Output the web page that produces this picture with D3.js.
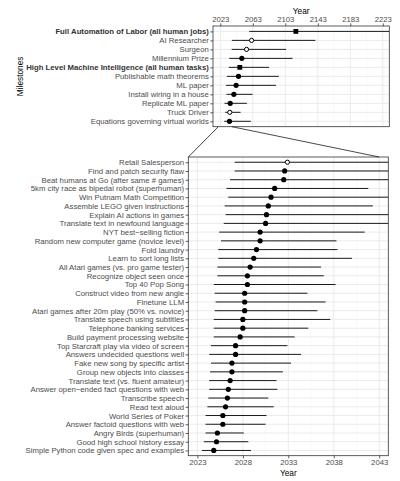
<!DOCTYPE html>
<html><head><meta charset="utf-8">
<script src="https://cdn.jsdelivr.net/npm/d3@7"></script>
<style>
html,body{margin:0;padding:0;background:#fff;}
svg{display:block;font-family:"Liberation Sans",Arial,sans-serif;}
</style></head>
<body><svg id="c" width="400" height="481"></svg>
<script>
// ---------- DATA ----------
const topTasks = ["Full Automation of Labor (all human jobs)","AI Researcher","Surgeon","Millennium Prize",
"High Level Machine Intelligence (all human tasks)","Publishable math theorems","ML paper","Install wiring in a house",
"Replicate ML paper","Truck Driver","Equations governing virtual worlds"];
const topMid = [2116,2061.5,2055.3,2049.5,2047,2045.4,2042.5,2039.7,2035.2,2034.7,2034.3];
const topLo  = [2058.6,2037.2,2037,2033.9,2033.5,2031,2029.8,2030.6,2028.2,2029,2027.8];
const topHi  = [2260,2140,2104,2112,2083,2095,2091.5,2062.7,2055.7,2048,2060.6];
const topShape = ["square","open","open","dot","square","dot","dot","dot","dot","open","dot"];
const topBold = [true,false,false,false,true,false,false,false,false,false,false];
const topTicks = [2023,2063,2103,2143,2183,2223];
const topMinor = [2043,2083,2123,2163,2203];

const botTasks = ["Retail Salesperson","Find and patch security flaw","Beat humans at Go (after same # games)",
"5km city race as bipedal robot (superhuman)","Win Putnam Math Competition","Assemble LEGO given instructions",
"Explain AI actions in games","Translate text in newfound language","NYT best\u2212selling fiction",
"Random new computer game (novice level)","Fold laundry","Learn to sort long lists","All Atari games (vs. pro game tester)",
"Recognize object seen once","Top 40 Pop Song","Construct video from new angle","Finetune LLM",
"Atari games after 20m play (50% vs. novice)","Translate speech using subtitles","Telephone banking services",
"Build payment processing website","Top Starcraft play via video of screen","Answers undecided questions well",
"Fake new song by specific artist","Group new objects into classes","Translate text (vs. fluent amateur)",
"Answer open\u2212ended fact questions with web","Transcribe speech","Read text aloud","World Series of Poker",
"Answer factoid questions with web","Angry Birds (superhuman)","Good high school history essay",
"Simple Python code given spec and examples"];
const botMid = [2032.9,2032.6,2032.5,2031.5,2031.1,2030.8,2030.6,2030.5,2029.9,2029.9,2029.5,2029.2,2028.8,
2028.5,2028.5,2028.2,2028.2,2028.2,2028,2028,2027.7,2027.2,2027.2,2026.8,2026.8,2026.6,2026.4,2026.3,2026.1,
2025.8,2025.8,2025.2,2025.1,2024.8];
const botLo = [2027.1,2027.1,2026.6,2026.2,2026.4,2026,2026.1,2025.9,2025.4,2025.6,2025.3,2025.3,2025.2,
2025.2,2024.8,2024.9,2025,2024.9,2024.8,2024.8,2024.8,2024.5,2024.3,2024.5,2024.4,2024.3,2024.3,2024.2,2024.1,
2023.9,2023.9,2023.9,2023.7,2023.5];
const botHi = [2050,2050,2050,2041.8,2050,2042.3,2050,2050,2041.4,2038.3,2038.4,2040,2036.6,
2036.9,2038.2,2035.1,2037.1,2036.2,2037.6,2035.2,2033.7,2032.9,2034.4,2033.3,2032.4,2031.7,2031.8,2030.8,2031.4,
2030.6,2030.5,2028.1,2028.6,2028.9];
const botShape = ["open"].concat(new Array(33).fill("dot"));
const botTicks = [2023,2028,2033,2038,2043];
const botMinor = [2025.5,2030.5,2035.5,2040.5];
// zoom connectors: [top-panel year, bottom-panel year]
const zoomLeft = [2020.5, 2022];
const zoomRight = [2037.2, 2043];

// ---------- LAYOUT ----------
const FONT = "'Liberation Sans', Arial, sans-serif";
const svg = d3.select("#c");
const FS = 7.75, TFS = 8.3;
const T = {l:213, r:389.3, t:26, b:126.7};
const B = {l:188.3, r:388.3, t:157, b:455.7};

const xT = d3.scaleLinear().domain([2014,2231]).range([T.l,T.r]);
const yT = d3.scalePoint().domain(topTasks).range([T.t,T.b]).padding(0.6);
const xB = d3.scaleLinear().domain([2022,2044]).range([B.l,B.r]);
const yB = d3.scalePoint().domain(botTasks).range([B.t,B.b]).padding(0.6);

const defs = svg.append("defs");
defs.append("clipPath").attr("id","clipT").append("rect").attr("x",T.l).attr("y",T.t).attr("width",T.r-T.l).attr("height",T.b-T.t);
defs.append("clipPath").attr("id","clipB").append("rect").attr("x",B.l).attr("y",B.t).attr("width",B.r-B.l).attr("height",B.b-B.t);

function panel(P, x, y, tasks, mid, lo, hi, shape, ticks, minor, clipId, axisTop, bold){
  const g = svg.append("g");
  const grid = g.append("g");
  grid.selectAll(".mn").data(minor).enter().append("line")
    .attr("x1",d=>x(d)).attr("x2",d=>x(d)).attr("y1",P.t).attr("y2",P.b)
    .attr("stroke","#f2f2f2").attr("stroke-width",0.5);
  grid.selectAll(".mj").data(ticks).enter().append("line")
    .attr("x1",d=>x(d)).attr("x2",d=>x(d)).attr("y1",P.t).attr("y2",P.b)
    .attr("stroke","#ebebeb").attr("stroke-width",1);
  grid.selectAll(".hz").data(tasks).enter().append("line")
    .attr("x1",P.l).attr("x2",P.r).attr("y1",d=>y(d)).attr("y2",d=>y(d))
    .attr("stroke","#ebebeb").attr("stroke-width",1);
  const dg = g.append("g").attr("clip-path","url(#"+clipId+")");
  dg.selectAll(".rng").data(tasks).enter().append("line")
    .attr("x1",(d,i)=>x(lo[i])).attr("x2",(d,i)=>x(hi[i]))
    .attr("y1",d=>y(d)).attr("y2",d=>y(d))
    .attr("stroke","#1a1a1a").attr("stroke-width",1);
  tasks.forEach((d,i)=>{
    const cx = x(mid[i]), cy = y(d);
    if(shape[i]==="square"){
      dg.append("rect").attr("x",cx-2.4).attr("y",cy-2.4).attr("width",4.8).attr("height",4.8).attr("fill","#000");
    } else if(shape[i]==="open"){
      dg.append("circle").attr("cx",cx).attr("cy",cy).attr("r",2.1).attr("fill","#fff").attr("stroke","#000").attr("stroke-width",1);
    } else {
      dg.append("circle").attr("cx",cx).attr("cy",cy).attr("r",2.6).attr("fill","#000");
    }
  });
  g.append("rect").attr("x",P.l).attr("y",P.t).attr("width",P.r-P.l).attr("height",P.b-P.t)
    .attr("fill","none").attr("stroke","#333").attr("stroke-width",0.8);
  const ax = axisTop ? d3.axisTop(x) : d3.axisBottom(x);
  ax.tickValues(ticks).tickFormat(d3.format("d")).tickSize(2.7).tickPadding(1.5);
  const xa = g.append("g").attr("transform","translate(0,"+(axisTop?P.t:P.b)+")").call(ax)
    .attr("font-family",FONT);
  xa.select(".domain").remove();
  xa.selectAll("line").attr("stroke","#333").attr("stroke-width",0.8);
  xa.selectAll("text").attr("fill","#4d4d4d").style("font-size",FS+"px").style("font-family",FONT);
  const ya = g.append("g").attr("transform","translate("+P.l+",0)")
    .call(d3.axisLeft(y).tickSize(2.7).tickPadding(1.5)).attr("font-family",FONT);
  ya.select(".domain").remove();
  ya.selectAll("line").attr("stroke","#333").attr("stroke-width",0.8);
  ya.selectAll("text").attr("fill",(d,i)=> bold && bold[i] ? "#333" : "#4d4d4d")
    .style("font-weight",(d,i)=> bold && bold[i] ? "bold" : "normal")
    .style("font-size",FS+"px").style("font-family",FONT);
}

panel(T, xT, yT, topTasks, topMid, topLo, topHi, topShape, topTicks, topMinor, "clipT", true, topBold);
panel(B, xB, yB, botTasks, botMid, botLo, botHi, botShape, botTicks, botMinor, "clipB", false, null);

svg.append("line").attr("x1",xT(zoomLeft[0])).attr("y1",T.b).attr("x2",xB(zoomLeft[1])).attr("y2",B.t)
  .attr("stroke","#1a1a1a").attr("stroke-width",0.8);
svg.append("line").attr("x1",xT(zoomRight[0])).attr("y1",T.b).attr("x2",xB(zoomRight[1])).attr("y2",B.t)
  .attr("stroke","#1a1a1a").attr("stroke-width",0.8);

svg.append("text").attr("x",(T.l+T.r)/2).attr("y",14).attr("text-anchor","middle")
  .style("font-size",TFS+"px").style("font-family",FONT).attr("fill","#000").text("Year");
svg.append("text").attr("x",(B.l+B.r)/2).attr("y",475.5).attr("text-anchor","middle")
  .style("font-size",TFS+"px").style("font-family",FONT).attr("fill","#000").text("Year");
svg.append("text").attr("transform","translate(23,"+((T.t+T.b)/2)+") rotate(-90)").attr("text-anchor","middle")
  .style("font-size",TFS+"px").style("font-family",FONT).attr("fill","#000").text("Milestones");
</script></body></html>
